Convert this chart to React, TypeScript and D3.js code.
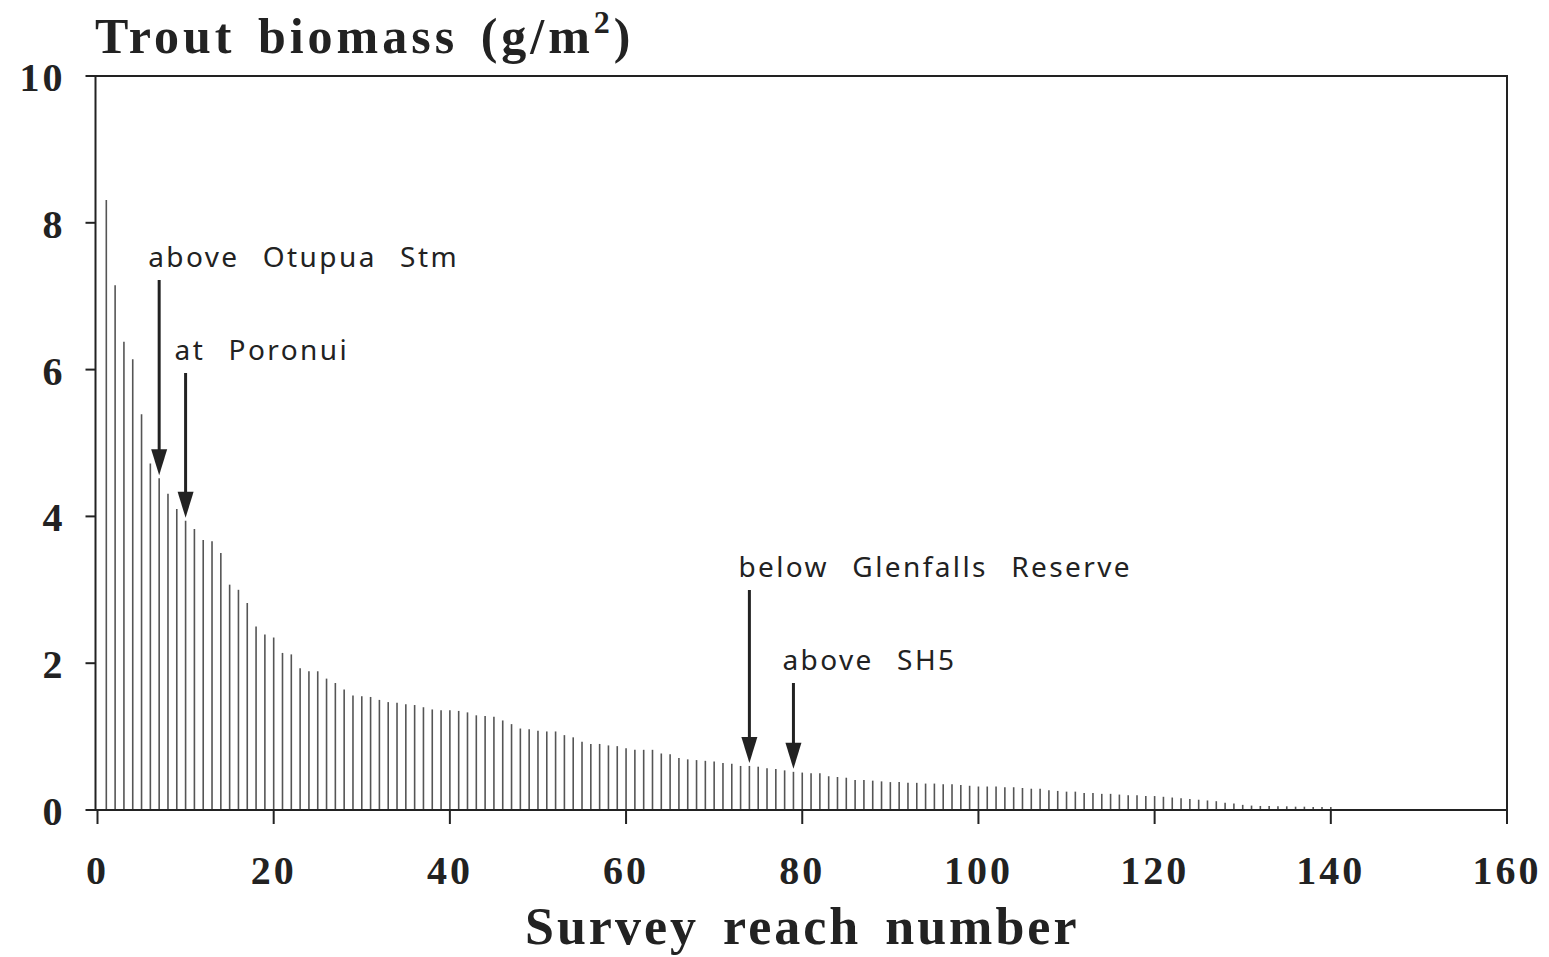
import { useEffect, useRef } from 'react';
import * as d3 from 'd3';

// biomass (g/m2) for survey reaches 1..140
const biomass = [
  8.31, 7.15, 6.38, 6.14, 5.39, 4.72, 4.52, 4.31, 4.10, 3.94,
  3.83, 3.68, 3.66, 3.50, 3.07, 3.00, 2.82, 2.50, 2.39, 2.35,
  2.14, 2.12, 1.93, 1.89, 1.89, 1.79, 1.73, 1.64, 1.56, 1.55,
  1.54, 1.50, 1.47, 1.46, 1.44, 1.43, 1.40, 1.37, 1.36, 1.36,
  1.35, 1.33, 1.29, 1.28, 1.27, 1.22, 1.17, 1.11, 1.10, 1.08,
  1.07, 1.07, 1.02, 0.99, 0.93, 0.90, 0.90, 0.88, 0.87, 0.84,
  0.82, 0.82, 0.82, 0.77, 0.76, 0.71, 0.69, 0.68, 0.67, 0.66,
  0.64, 0.63, 0.60, 0.60, 0.59, 0.57, 0.56, 0.54, 0.52, 0.51,
  0.50, 0.50, 0.46, 0.45, 0.44, 0.41, 0.41, 0.40, 0.39, 0.38,
  0.38, 0.37, 0.37, 0.36, 0.36, 0.35, 0.35, 0.34, 0.33, 0.32,
  0.32, 0.32, 0.31, 0.31, 0.30, 0.29, 0.29, 0.27, 0.26, 0.25,
  0.25, 0.23, 0.23, 0.22, 0.22, 0.21, 0.20, 0.20, 0.19, 0.19,
  0.18, 0.17, 0.16, 0.15, 0.14, 0.13, 0.12, 0.10, 0.09, 0.07,
  0.06, 0.055, 0.055, 0.05, 0.05, 0.045, 0.045, 0.04, 0.04, 0.04,
];
const xTicks = [0, 20, 40, 60, 80, 100, 120, 140, 160];
const yTicks = [0, 2, 4, 6, 8, 10];
const noteLabels = ['above  Otupua  Stm', 'at  Poronui', 'below  Glenfalls  Reserve', 'above  SH5'];
const noteReaches = [7, 10, 74, 79];
// label baselines on screen (layout only)
const noteBaselines = [267, 360, 577, 670];

export default function App() {
  const svgRef = useRef<SVGSVGElement>(null);

  useEffect(() => {
    if (!svgRef.current) return;
    const W = 1549, H = 957;
    const x = d3.scaleLinear().domain([0, 160]).range([97.5, 1507]);
    const y = d3.scaleLinear().domain([0, 10]).range([810, 76]);
    const ink = '#222';
    const serif = '"Liberation Serif", "Times New Roman", serif';
    const sans = '"Noto Sans", "DejaVu Sans", sans-serif';

    const svg = d3.select(svgRef.current);
    svg.selectAll('*').remove();
    svg.attr('width', W).attr('height', H);
    svg.append('rect').attr('width', W).attr('height', H).attr('fill', '#fff');

    // bars (thin vertical lines)
    svg.append('g')
      .selectAll('line')
      .data(biomass)
      .join('line')
      .attr('x1', (_, i) => x(i + 1)).attr('x2', (_, i) => x(i + 1))
      .attr('y1', y(0)).attr('y2', d => y(d))
      .attr('stroke', '#555').attr('stroke-width', 1.6);

    // frame
    svg.append('rect')
      .attr('x', x(0) - 2).attr('y', y(10))
      .attr('width', x(160) - x(0) + 2).attr('height', y(0) - y(10))
      .attr('fill', 'none').attr('stroke', ink).attr('stroke-width', 2);

    // y axis ticks + labels
    const yg = svg.append('g');
    yg.selectAll('line').data(yTicks).join('line')
      .attr('x1', x(0) - 12).attr('x2', x(0) - 2)
      .attr('y1', d => y(d)).attr('y2', d => y(d))
      .attr('stroke', ink).attr('stroke-width', 2);
    yg.selectAll('text').data(yTicks).join('text')
      .attr('x', x(0) - 32).attr('y', d => y(d) + 15)
      .attr('text-anchor', 'end')
      .attr('font-family', serif).attr('font-weight', 'bold').attr('font-size', 40)
      .attr('letter-spacing', 3).attr('fill', ink)
      .text(d => d);

    // x axis ticks + labels
    const xg = svg.append('g');
    xg.selectAll('line').data(xTicks).join('line')
      .attr('x1', d => x(d)).attr('x2', d => x(d))
      .attr('y1', y(0)).attr('y2', y(0) + 14)
      .attr('stroke', ink).attr('stroke-width', 2);
    xg.selectAll('text').data(xTicks).join('text')
      .attr('x', d => x(d)).attr('y', 884)
      .attr('text-anchor', 'middle')
      .attr('font-family', serif).attr('font-weight', 'bold').attr('font-size', 40)
      .attr('letter-spacing', 3).attr('fill', ink)
      .text(d => d);

    // titles
    const t = svg.append('text')
      .attr('x', 95).attr('y', 53)
      .attr('font-family', serif).attr('font-weight', 'bold').attr('font-size', 50)
      .attr('letter-spacing', 4).attr('word-spacing', 6).attr('fill', ink);
    t.append('tspan').text('Trout biomass (g/m');
    t.append('tspan').attr('font-size', 32).attr('dy', -20).text('2');
    t.append('tspan').attr('dy', 20).text(')');

    svg.append('text')
      .attr('x', x(80)).attr('y', 944)
      .attr('text-anchor', 'middle')
      .attr('font-family', serif).attr('font-weight', 'bold').attr('font-size', 52)
      .attr('letter-spacing', 3).attr('word-spacing', 8).attr('fill', ink)
      .text('Survey reach number');

    // annotations with arrows
    const ng = svg.append('g');
    noteLabels.forEach((label, i) => {
      const r = noteReaches[i];
      const ax = x(r);
      const tipY = y(biomass[r - 1]) - 3;
      const startY = noteBaselines[i] + 13;
      ng.append('text')
        .attr('x', ax - 11).attr('y', noteBaselines[i])
        .attr('font-family', sans).attr('font-size', 28)
        .attr('letter-spacing', 2.4).attr('word-spacing', 2).attr('fill', ink)
        .attr('xml:space', 'preserve').style('white-space', 'pre')
        .text(label);
      ng.append('line')
        .attr('x1', ax).attr('x2', ax)
        .attr('y1', startY).attr('y2', tipY - 20)
        .attr('stroke', ink).attr('stroke-width', 3);
      ng.append('path')
        .attr('d', `M${ax - 8},${tipY - 26} L${ax + 8},${tipY - 26} L${ax},${tipY} Z`)
        .attr('fill', ink);
    });
  }, []);

  return (
    <div style={{ position: 'absolute', left: 0, top: 0 }}>
      <svg ref={svgRef} style={{ display: 'block' }} />
    </div>
  );
}
